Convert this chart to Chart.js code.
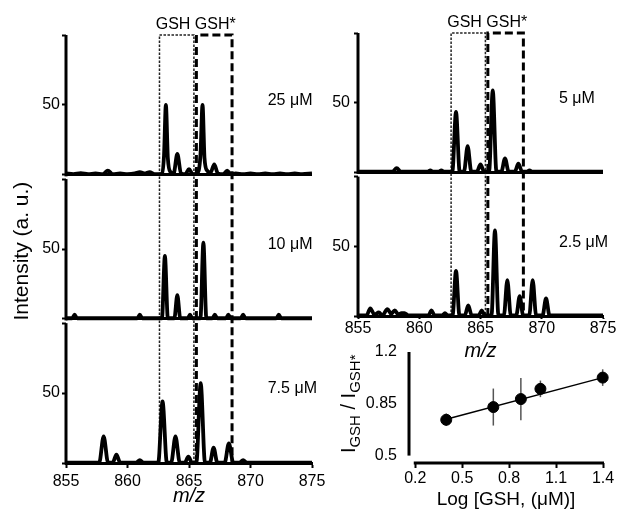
<!DOCTYPE html>
<html><head><meta charset="utf-8">
<script src="https://cdn.jsdelivr.net/npm/chart.js@4/dist/chart.umd.min.js"></script>
<style>
html,body{margin:0;padding:0;background:#fff;}
#wrap{position:relative;width:617px;height:513px;overflow:hidden;background:#fff}
.c{position:absolute}
</style></head><body>
<div id="wrap">
<div class="c" style="left:0;top:0;width:330px;height:513px"><canvas id="left"></canvas></div>
<div class="c" style="left:330px;top:0;width:287px;height:366px"><canvas id="right"></canvas></div>
<div class="c" style="left:330px;top:330px;width:287px;height:183px"><canvas id="cal"></canvas></div>
</div>
<script>
// ---------- DATA ----------
const mzTicks = [855, 860, 865, 870, 875];
const intensityTicks = [0, 50, 100];
const intensityLabelTicks = [50];
const gshBox = [862.6, 865.4];
const gshStarBox = [865.6, 868.5];

// spectra: [m/z, intensity]
const spec25 = [[855,1],[855.6,0.5],[856.2,1.2],[856.8,0.5],[857.4,1],[858.0,0.5],[858.4,3],[858.8,0.5],[859.4,1],[860.0,0.5],[860.6,1],[861.0,2],[861.4,1],[861.8,2],[862.2,0.5],[862.6,0.5],[862.8,1],[862.97,14],[863.12,50],[863.28,12],[863.5,2],[863.75,1],[864.05,15],[864.35,1],[864.7,0.5],[865.0,4],[865.3,0.5],[865.65,1],[865.93,14],[866.1,50],[866.26,12],[866.48,3],[866.75,1.5],[867.05,7.5],[867.35,1],[867.8,0.5],[868.1,3],[868.4,0.5],[868.8,1],[869.4,0.5],[870.0,1],[870.6,0.5],[871.2,1],[871.8,0.5],[872.4,1],[873.0,0.5],[873.6,1],[874.2,0.5],[875,1]];
const spec10 = [[855,0.5],[855.5,0.5],[855.7,3],[855.9,0.5],[860.8,0.5],[861,3],[861.2,0.5],[862.8,0.5],[863.04,45],[863.28,0.5],[863.81,0.5],[864.05,17],[864.29,0.5],[864.9,0.5],[865.08,3],[865.26,0.5],[865.93,0.5],[866.17,54.5],[866.41,0.5],[866.9,0.5],[867.1,3],[867.3,0.5],[868.0,0.5],[868.2,3],[868.4,0.5],[869.2,0.5],[869.4,3],[869.6,0.5],[872.1,0.5],[872.3,3],[872.5,0.5],[875,0.5]];
const spec7_5 = [[855,0.3],[857.7,0.3],[858.06,19],[858.42,0.3],[858.8,0.3],[859.1,6],[859.4,0.3],[860.7,0.3],[861,2],[861.3,0.3],[862.5,0.3],[862.85,44],[863.2,0.3],[863.55,0.3],[863.9,19],[864.25,0.3],[864.65,0.3],[864.95,4.5],[865.25,0.3],[865.6,0.3],[865.95,57],[866.3,0.3],[866.7,0.3],[867.0,11],[867.3,0.3],[867.9,0.3],[868.24,14],[868.6,0.3],[869.1,0.3],[869.4,2],[869.7,0.3],[875,0.3]];
const spec5 = [[855,0.5],[857.8,0.5],[858.16,3],[858.5,0.5],[860.7,0.5],[860.9,1.5],[861.1,0.5],[861.6,0.5],[861.8,1.5],[862.0,0.5],[862.7,0.5],[863.0,43.4],[863.3,0.5],[863.65,0.5],[863.95,18.8],[864.25,0.5],[864.7,0.5],[865.0,5.7],[865.3,0.5],[865.7,0.5],[866.0,58.8],[866.3,0.5],[866.7,0.5],[867.0,10],[867.3,0.5],[867.8,0.5],[868.09,6.2],[868.4,0.5],[868.8,0.5],[869.0,1.5],[869.2,0.5],[875,0.5]];
const spec2_5 = [[855,0.5],[855.7,0.5],[856.0,5.5],[856.35,1],[856.7,2.5],[857.0,0.5],[857.4,5],[857.7,1.5],[858.0,4],[858.3,1],[858.55,2],[858.8,2],[859.1,0.5],[860.75,0.5],[861.0,4],[861.25,0.5],[861.9,0.5],[862.1,2],[862.3,0.5],[862.72,0.5],[863.0,32.4],[863.28,0.5],[863.72,0.5],[864.0,7.6],[864.28,0.5],[864.85,0.5],[865.1,4],[865.35,0.5],[865.9,0.5],[866.18,61.4],[866.46,0.5],[866.91,0.5],[867.19,25.7],[867.47,0.5],[867.92,0.5],[868.2,14.3],[868.48,0.5],[868.98,0.5],[869.26,25.7],[869.54,0.5],[870.07,0.5],[870.35,12.6],[870.63,0.5],[875,0.5]];

const leftLabels = ['25 μM', '10 μM', '7.5 μM'];
const rightLabels = ['5 μM', '2.5 μM'];

// calibration
const logConc = [0.398, 0.699, 0.875, 1.0, 1.398];
const ratio = [0.742, 0.828, 0.882, 0.951, 1.027];
const ratioErr = [0.042, 0.125, 0.143, 0.056, 0.056];
const fitX = [0.398, 1.398];
const fitY = [0.745, 1.027];
const calXTicks = [0.2, 0.5, 0.8, 1.1, 1.4];
const calYTicks = [0.5, 0.85, 1.2];

// ---------- CHARTS ----------
Chart.defaults.font.family = "'Liberation Sans', Arial, Helvetica, sans-serif";
Chart.defaults.color = '#000';

const specPlugin = {
  id: 'spec',
  beforeDatasetsDraw(chart, args, opts) {
    const {ctx} = chart;
    const xs = chart.scales.x;
    const n = opts.n;
    const top = chart.scales.y0, bot = chart.scales['y' + (n - 1)];
    const yTop = top.getPixelForValue(100), yBot = bot.getPixelForValue(0);
    ctx.save();
    // GSH box (thin dotted)
    const xL = xs.getPixelForValue(gshBox[0]), xR = xs.getPixelForValue(gshBox[1]);
    ctx.strokeStyle = '#222'; ctx.lineWidth = 1.5; ctx.setLineDash([2.5, 1.5]);
    ctx.beginPath(); ctx.moveTo(xL, yBot); ctx.lineTo(xL, yTop); ctx.lineTo(xR, yTop); ctx.lineTo(xR, yBot); ctx.stroke();
    // GSH* box (thick dashed)
    const xL2 = xs.getPixelForValue(gshStarBox[0]), xR2 = xs.getPixelForValue(gshStarBox[1]);
    ctx.strokeStyle = '#000'; ctx.lineWidth = 3; ctx.setLineDash([8, 4]);
    ctx.beginPath(); ctx.moveTo(xL2, yBot); ctx.lineTo(xL2, yTop); ctx.lineTo(xR2, yTop); ctx.lineTo(xR2, yBot); ctx.stroke();
    ctx.setLineDash([]);
    ctx.fillStyle = '#000';
    ctx.font = "16px 'Liberation Sans', Arial, sans-serif";
    ctx.textAlign = 'center'; ctx.textBaseline = 'alphabetic';
    ctx.fillText('GSH GSH*', (xL + xR2) / 2, yTop - 6);
    ctx.restore();
  },
  afterDatasetsDraw(chart, args, opts) {
    const {ctx, chartArea} = chart;
    const xs = chart.scales.x;
    ctx.save();
    ctx.strokeStyle = '#000'; ctx.lineWidth = 3;
    for (let i = 0; i < opts.n; i++) {
      const s = chart.scales['y' + i];
      ctx.beginPath();
      ctx.moveTo(chartArea.left, s.getPixelForValue(0) + 1.5);
      ctx.lineTo(chartArea.left, s.getPixelForValue(100));
      ctx.stroke();
      ctx.fillStyle = '#000';
      ctx.font = "16px 'Liberation Sans', Arial, sans-serif";
      ctx.textAlign = 'left'; ctx.textBaseline = 'middle';
      ctx.fillText(opts.labels[i], xs.getPixelForValue(871.4), s.getPixelForValue(53));
    }
    ctx.restore();
  }
};

function makeSpectrum(id, panels, labels, cfg) {
  const n = panels.length;
  const scales = {
    x: {
      type: 'linear', position: 'bottom', min: mzTicks[0], max: mzTicks[mzTicks.length - 1],
      afterBuildTicks: s => { s.ticks = mzTicks.map(v => ({value: v})); },
      afterFit: s => { s.height = cfg.xAxisH; },
      border: {display: true, color: '#000', width: 3},
      grid: {drawOnChartArea: false, drawTicks: true, tickLength: cfg.xTickLen, tickColor: '#000', tickWidth: 2},
      ticks: {color: '#000', font: {size: 16}, padding: cfg.xTickPad, maxRotation: 0, autoSkip: false, callback: v => String(v)},
      title: {display: true, text: 'm/z', color: '#000', font: {size: 20, style: 'italic'}, padding: {top: 0, bottom: cfg.titlePad}}
    }
  };
  panels.forEach((p, i) => {
    const last = i === n - 1;
    scales['y' + i] = {
      type: 'linear', position: 'left', stack: 'col', stackWeight: last ? 100 : 103, weight: n - i,
      min: last ? 0 : -3, max: 100,
      afterBuildTicks: s => { s.ticks = intensityTicks.map(v => ({value: v})); },
      afterFit: s => { s.width = cfg.yAxisW; },
      border: {display: false},
      grid: {
        drawOnChartArea: true, drawTicks: true, tickLength: 4, tickColor: '#000', tickWidth: 2,
        color: c => (c.tick && c.tick.value === 0) ? '#000' : 'rgba(0,0,0,0)', lineWidth: 3
      },
      ticks: {color: '#000', font: {size: 16}, padding: cfg.yTickPad, autoSkip: false,
        callback: v => intensityLabelTicks.includes(v) ? String(v) : ''},
      title: (cfg.yTitleIndex === i) ? {display: true, text: 'Intensity (a. u.)', color: '#000', font: {size: 21}, padding: {top: 10, bottom: 0}} : {display: false}
    };
  });
  return new Chart(document.getElementById(id), {
    type: 'line',
    data: {datasets: panels.map((p, i) => ({
      yAxisID: 'y' + i,
      data: p.map(([x, y]) => ({x, y})),
      borderColor: '#000', borderWidth: 3.8, pointRadius: 0,
      cubicInterpolationMode: 'monotone', fill: false
    }))},
    options: {
      responsive: true, maintainAspectRatio: false, animation: false, devicePixelRatio: 1,
      layout: {padding: cfg.padding},
      plugins: {legend: {display: false}, tooltip: {enabled: false}, spec: {labels, n}},
      scales
    },
    plugins: [specPlugin]
  });
}

makeSpectrum('left', [spec25, spec10, spec7_5], leftLabels,
  {padding: {left: 0, right: 18, top: 35, bottom: 0}, yAxisW: 66, xAxisH: 50, xTickLen: 5, xTickPad: 4, yTickPad: 2, titlePad: 5, yTitleIndex: 1});
makeSpectrum('right', [spec5, spec2_5], rightLabels,
  {padding: {left: 0, right: 14, top: 33, bottom: 0}, yAxisW: 28, xAxisH: 50, xTickLen: 3, xTickPad: 0, yTickPad: 4, titlePad: 3, yTitleIndex: -1});

const calPlugin = {
  id: 'cal',
  beforeDatasetsDraw(chart) {
    const {ctx, chartArea: ca} = chart;
    const xs = chart.scales.x, ys = chart.scales.y;
    ctx.save();
    ctx.strokeStyle = '#000'; ctx.lineWidth = 3;
    ctx.beginPath();
    ctx.moveTo(ca.left, ys.getPixelForValue(calYTicks[0]));
    ctx.lineTo(ca.left, ys.getPixelForValue(calYTicks[calYTicks.length - 1]));
    ctx.stroke();
    ctx.beginPath();
    ctx.moveTo(xs.getPixelForValue(calXTicks[0]) - 1.5, ca.bottom);
    ctx.lineTo(xs.getPixelForValue(calXTicks[calXTicks.length - 1]) + 1, ca.bottom);
    ctx.stroke();
    // error bars
    ctx.strokeStyle = '#555'; ctx.lineWidth = 1.5;
    logConc.forEach((x, i) => {
      const px = xs.getPixelForValue(x);
      ctx.beginPath();
      ctx.moveTo(px, ys.getPixelForValue(ratio[i] - ratioErr[i]));
      ctx.lineTo(px, ys.getPixelForValue(ratio[i] + ratioErr[i]));
      ctx.stroke();
    });
    // y title with subscripts
    const cx = ca.left - 60;
    const cy = (ys.getPixelForValue(calYTicks[0]) + ys.getPixelForValue(calYTicks[calYTicks.length - 1])) / 2;
    const main = "20px 'Liberation Sans', Arial, sans-serif";
    const sub = "15px 'Liberation Sans', Arial, sans-serif";
    const segs = [['I', main, 0], ['GSH', sub, 5], [' / I', main, 0], ['GSH*', sub, 5]];
    let W = 0;
    segs.forEach(s => { ctx.font = s[1]; W += ctx.measureText(s[0]).width; });
    ctx.translate(cx, cy); ctx.rotate(-Math.PI / 2);
    ctx.fillStyle = '#000'; ctx.textAlign = 'left'; ctx.textBaseline = 'alphabetic';
    let xx = -W / 2;
    segs.forEach(s => { ctx.font = s[1]; ctx.fillText(s[0], xx, 6 + s[2]); xx += ctx.measureText(s[0]).width; });
    ctx.restore();
  }
};

new Chart(document.getElementById('cal'), {
  type: 'scatter',
  data: {datasets: [
    {type: 'line', data: fitX.map((x, i) => ({x, y: fitY[i]})), borderColor: '#000', borderWidth: 1.5, pointRadius: 0, showLine: true, fill: false, order: 2},
    {data: logConc.map((x, i) => ({x, y: ratio[i]})), backgroundColor: '#000', borderColor: '#000', pointRadius: 5.5, clip: false, order: 1}
  ]},
  options: {
    responsive: true, maintainAspectRatio: false, animation: false, devicePixelRatio: 1,
    layout: {padding: {left: 30, right: 14, top: 22, bottom: 0}},
    plugins: {legend: {display: false}, tooltip: {enabled: false}},
    scales: {
      x: {
        type: 'linear', min: 0.16, max: 1.4,
        afterBuildTicks: s => { s.ticks = calXTicks.map(v => ({value: v})); },
        afterFit: s => { s.height = 50; },
        border: {display: false},
        grid: {drawOnChartArea: false, drawTicks: true, tickLength: 5, tickColor: '#000', tickWidth: 2},
        ticks: {color: '#000', font: {size: 16}, padding: 1, maxRotation: 0, autoSkip: false, callback: v => v.toFixed(1)},
        title: {display: true, text: 'Log [GSH, (μM)]', color: '#000', font: {size: 19}, padding: {top: 0, bottom: 2}}
      },
      y: {
        type: 'linear', min: 0.45, max: 1.2,
        afterBuildTicks: s => { s.ticks = calYTicks.map(v => ({value: v})); },
        afterFit: s => { s.width = 49; },
        border: {display: false},
        grid: {drawOnChartArea: false, drawTicks: false},
        ticks: {color: '#000', font: {size: 16}, padding: 12, autoSkip: false, callback: v => String(v)}
      }
    }
  },
  plugins: [calPlugin]
});
</script>
</body></html>
